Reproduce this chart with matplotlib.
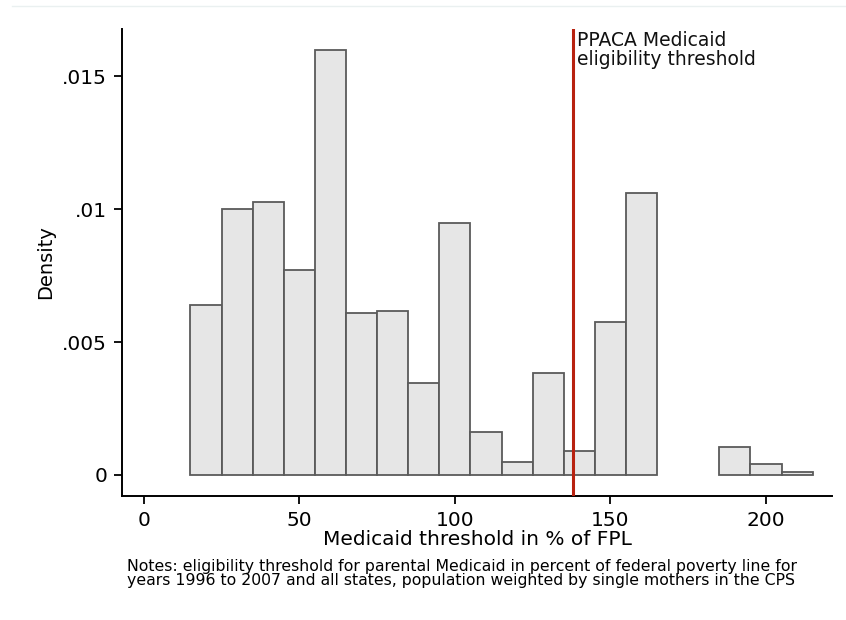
import matplotlib
matplotlib.use("Agg")
import matplotlib.pyplot as plt
from matplotlib.lines import Line2D

# ---- data (density per bin, bin width 10) ----
bin_left = [15, 25, 35, 45, 55, 65, 75, 85, 95, 105, 115, 125, 135, 145, 155,
            165, 175, 185, 195, 205]
density = [0.00640, 0.01002, 0.01028, 0.00770, 0.01598, 0.00609, 0.00617,
           0.00346, 0.00947, 0.00162, 0.00050, 0.00384, 0.00090, 0.00577,
           0.01059, 0.0, 0.0, 0.00105, 0.00040, 0.00010]
bin_width = 10
threshold = 138
xticks = [0, 50, 100, 150, 200]
yticks = [0, 0.005, 0.01, 0.015]
ytick_labels = ["0", ".005", ".01", ".015"]
xlabel = "Medicaid threshold in % of FPL"
ylabel = "Density"
annot = "PPACA Medicaid\neligibility threshold"
notes = ("Notes: eligibility threshold for parental Medicaid in percent of federal poverty line for\n"
         "years 1996 to 2007 and all states, population weighted by single mothers in the CPS")

plt.rcParams['font.family'] = ['DejaVu Sans']

fig = plt.figure(figsize=(8.46, 6.20), dpi=100)
fig.patch.set_facecolor("white")
ax = fig.add_axes([0.1446, 0.2005, 0.8392, 0.7522])

# empty bins are not drawn
xs = [x for x, d in zip(bin_left, density) if d > 0]
ds = [d for d in density if d > 0]
ax.bar(xs, ds, width=bin_width, align="edge",
       color="#e6e6e6", edgecolor="#5a5a5a", linewidth=1.3, zorder=2)
ax.axvline(threshold, color="#b82210", linewidth=2.2, zorder=3)
ax.text(threshold + 1.3, 0.996, annot, fontsize=13.5, color="#111111",
        va="top", ha="left", linespacing=1.0, zorder=4,
        transform=ax.get_xaxis_transform())

ax.set_xlim(-6.9, 221.3)
ax.set_ylim(-0.00078, 0.01676)
ax.set_xticks(xticks)
ax.set_xticklabels([str(v) for v in xticks])
ax.set_yticks(yticks)
ax.set_yticklabels(ytick_labels)

for s in ["top", "right"]:
    ax.spines[s].set_visible(False)
for s in ["left", "bottom"]:
    ax.spines[s].set_linewidth(1.4)
    ax.spines[s].set_color("black")
ax.tick_params(axis="both", direction="out", length=6, width=1.3,
               labelsize=14.5, colors="black", pad=5)

ax.set_xlabel(xlabel, fontsize=14.5, labelpad=0)
ax.set_ylabel(ylabel, fontsize=14, labelpad=5)

fig.text(0.1505, 0.0984, notes, fontsize=11.3, ha="left", va="top",
         linespacing=0.92)

# faint outer frame line at the top
fig.add_artist(Line2D([0.014, 1.0], [0.990, 0.990], transform=fig.transFigure,
                      color="#eaf0f0", linewidth=1.0))

fig.savefig("out.png", dpi=100)
